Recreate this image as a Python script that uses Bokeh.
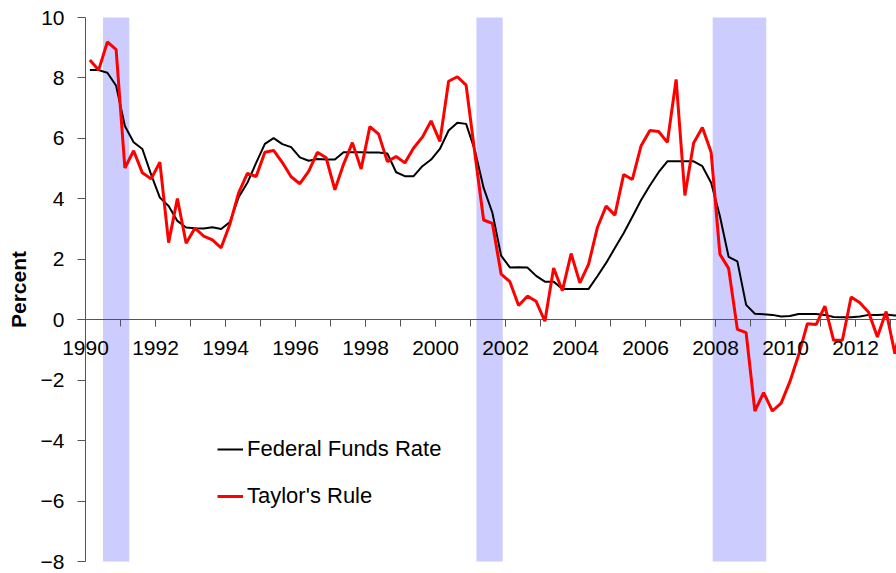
import numpy as np
from bokeh.plotting import figure
from bokeh.models import Range1d, SingleIntervalTicker, Legend, LegendItem, ColumnDataSource
from bokeh.embed import file_html
from bokeh.resources import INLINE

start_year = 1990
fed_funds = [8.26, 8.26, 8.17, 7.74, 6.41, 5.87, 5.65, 4.80, 4.04, 3.76, 3.27, 3.05,
             3.03, 3.02, 3.06, 3.00, 3.23, 4.05, 4.53, 5.19, 5.82, 6.01, 5.81, 5.71,
             5.37, 5.26, 5.32, 5.30, 5.30, 5.54, 5.54, 5.54, 5.53, 5.53, 5.50, 4.88,
             4.75, 4.75, 5.08, 5.30, 5.65, 6.26, 6.52, 6.48, 5.60, 4.36, 3.54, 2.12,
             1.73, 1.74, 1.73, 1.45, 1.26, 1.26, 1.02, 1.02, 1.02, 1.02, 1.44, 1.88,
             2.37, 2.86, 3.41, 3.96, 4.44, 4.88, 5.24, 5.24, 5.24, 5.24, 5.08, 4.53,
             3.43, 2.08, 1.93, 0.49, 0.20, 0.18, 0.16, 0.11, 0.12, 0.19, 0.19, 0.19,
             0.16, 0.09, 0.08, 0.08, 0.11, 0.16, 0.16, 0.17, 0.14, 0.13]
taylor = [8.59, 8.26, 9.19, 8.94, 5.02, 5.59, 4.86, 4.66, 5.21, 2.55, 4.01, 2.53,
          3.03, 2.77, 2.64, 2.38, 3.16, 4.20, 4.84, 4.74, 5.54, 5.60, 5.20, 4.73,
          4.50, 4.91, 5.54, 5.36, 4.30, 5.15, 5.86, 4.99, 6.39, 6.14, 5.23, 5.40,
          5.19, 5.68, 6.04, 6.58, 5.90, 7.89, 8.04, 7.76, 5.50, 3.30, 3.19, 1.51,
          1.26, 0.47, 0.78, 0.61, -0.05, 1.71, 0.96, 2.19, 1.22, 1.84, 3.05, 3.76,
          3.46, 4.80, 4.64, 5.76, 6.26, 6.23, 5.87, 7.95, 4.11, 5.85, 6.36, 5.54,
          2.17, 1.70, -0.32, -0.43, -3.02, -2.41, -3.02, -2.76, -2.05, -1.17, -0.13, -0.16,
          0.45, -0.68, -0.68, 0.75, 0.56, 0.25, -0.57, 0.27, -1.12, 0.20]
recession_start = [1990.5, 2001.17, 2007.92]
recession_end = [1991.25, 2001.92, 2009.45]
y_min, y_max = -8, 10
x_first = 1990

# quarter mid-points
t = start_year + (np.arange(len(fed_funds)) + 0.5) / 4.0

FONT = "Liberation Sans"

# frame spans the whole figure; axes are pinned inside it so nothing is clipped
W, H = 896, 573
px_per_year = 35.0
y_top_px, y_bot_px = 17, 561          # pixel rows of y = 10 and y = -8
px_per_unit = (y_bot_px - y_top_px) / (y_max - y_min)
x0 = x_first - 85 / px_per_year
x1 = x0 + W / px_per_year
top_pad = 1
y_top = y_max + (y_top_px - top_pad) / px_per_unit
y_bot = y_top - (H - top_pad) / px_per_unit

p = figure(width=W, height=H,
           x_range=Range1d(x0, x1), y_range=Range1d(y_bot, y_top),
           output_backend="svg", toolbar_location=None,
           min_border_left=0, min_border_right=0, min_border_top=top_pad, min_border_bottom=0)
p.outline_line_color = None
p.xgrid.grid_line_color = None
p.ygrid.grid_line_color = None
p.background_fill_color = "white"

p.quad(left=recession_start, right=recession_end,
       bottom=[y_min] * len(recession_start), top=[y_max] * len(recession_start),
       fill_color="#CCCCFF", line_color=None)

src = ColumnDataSource(dict(t=t, ff=fed_funds, tr=taylor))
r_ff = p.line("t", "ff", source=src, line_color="black", line_width=2)
r_tr = p.line("t", "tr", source=src, line_color="#FF0000", line_width=3)

axis_color = "#555555"

xa = p.xaxis[0]
xa.fixed_location = 0
xa.bounds = (x_first - 8 / px_per_year, x1)
xa.ticker = SingleIntervalTicker(interval=2, num_minor_ticks=2)
xa.major_tick_out = 7
xa.major_tick_in = 0
xa.minor_tick_out = 7
xa.minor_tick_in = 0
xa.axis_line_color = axis_color
xa.major_tick_line_color = axis_color
xa.minor_tick_line_color = axis_color
xa.major_label_text_font = FONT
xa.major_label_text_font_size = "21px"
xa.major_label_text_color = "black"
xa.major_label_standoff = 14

ya = p.yaxis[0]
ya.fixed_location = x_first
ya.bounds = (y_min, y_max)
ya.ticker = SingleIntervalTicker(interval=2, num_minor_ticks=0)
ya.major_tick_out = 8
ya.major_tick_in = 0
ya.minor_tick_line_color = None
ya.axis_line_color = axis_color
ya.major_tick_line_color = axis_color
ya.major_label_text_font = FONT
ya.major_label_text_font_size = "21px"
ya.major_label_text_color = "black"
ya.major_label_standoff = 13
ya.axis_label = "Percent"
ya.axis_label_text_font = FONT
ya.axis_label_text_font_size = "21px"
ya.axis_label_text_font_style = "bold"
ya.axis_label_text_color = "black"
ya.axis_label_standoff = 8

legend = Legend(items=[LegendItem(label="Federal Funds Rate", renderers=[r_ff]),
                       LegendItem(label="Taylor's Rule", renderers=[r_tr])],
                location=(217, 64))
legend.border_line_color = None
legend.background_fill_alpha = 0
legend.padding = 0
legend.margin = 0
legend.spacing = 21
legend.glyph_width = 26
legend.glyph_height = 24
legend.label_height = 24
legend.label_standoff = 4
legend.label_text_font = FONT
legend.label_text_font_size = "22px"
legend.label_text_color = "black"
p.add_layout(legend, "center")

open("out.html", "w").write(file_html(p, INLINE))
